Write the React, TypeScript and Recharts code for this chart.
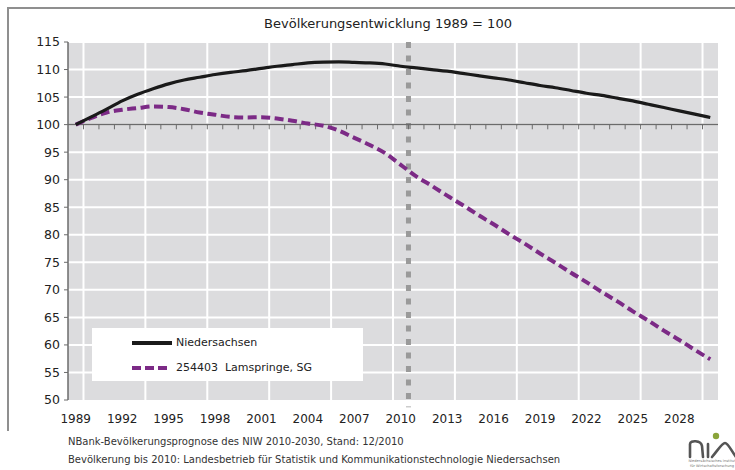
import { LineChart, Line, XAxis, YAxis, CartesianGrid, ReferenceLine, Legend } from 'recharts';

const years = [
  1989, 1990, 1991, 1992, 1993, 1994, 1995, 1996, 1997, 1998, 1999, 2000, 2001, 2002,
  2003, 2004, 2005, 2006, 2007, 2008, 2009, 2010, 2011, 2012, 2013, 2014, 2015, 2016,
  2017, 2018, 2019, 2020, 2021, 2022, 2023, 2024, 2025, 2026, 2027, 2028, 2029, 2030,
];

const niedersachsen = [
  100.0, 101.4, 102.8, 104.3, 105.5, 106.5, 107.4, 108.1, 108.6, 109.1, 109.5, 109.8, 110.2, 110.6,
  110.9, 111.2, 111.35, 111.4, 111.3, 111.2, 111.0, 110.6, 110.3, 110.0, 109.7, 109.3, 108.9, 108.5,
  108.1, 107.6, 107.1, 106.7, 106.2, 105.7, 105.3, 104.8, 104.3, 103.7, 103.1, 102.5, 101.9, 101.3,
];

const lamspringe = [
  100.0, 101.2, 102.2, 102.7, 103.0, 103.3, 103.2, 102.8, 102.2, 101.8, 101.4, 101.3, 101.35, 101.1,
  100.7, 100.2, 99.8, 98.9, 97.6, 96.3, 94.8, 92.7, 90.6, 88.9, 87.1, 85.4, 83.6, 81.9,
  80.1, 78.4, 76.6, 74.9, 73.1, 71.4, 69.6, 67.9, 66.1, 64.4, 62.6, 60.9, 59.1, 57.4,
];

const yearTicks = [1989, 1992, 1995, 1998, 2001, 2004, 2007, 2010, 2013, 2016, 2019, 2022, 2025, 2028];
const valueTicks = [50, 55, 60, 65, 70, 75, 80, 85, 90, 95, 100, 105, 110, 115];
const lastActualYear = 2010;
const baseValue = 100;

const seriesNames: Record<string, string> = {
  niedersachsen: 'Niedersachsen',
  lamspringe: '254403  Lamspringe, SG',
};
const legendOrder = ['niedersachsen', 'lamspringe'];

const data = years.map((year, i) => ({
  year,
  niedersachsen: niedersachsen[i],
  lamspringe: lamspringe[i],
}));

// category boundaries sit half a year between the points
const boundaries = years.slice(1).map((y) => y - 0.5);

const FONT = '"DejaVu Sans", Verdana, sans-serif';
const TEXT = '#222';
const AXIS = '#6b6b6b';
const PURPLE = '#7c2a86';

const LegendBox = ({ payload }: any) => {
  const items = [...(payload || [])].sort(
    (a: any, b: any) => legendOrder.indexOf(a.dataKey) - legendOrder.indexOf(b.dataKey)
  );
  return (
    <div
      style={{
        background: '#fff',
        width: 271,
        height: 53,
        boxSizing: 'border-box',
        paddingTop: 2,
        paddingLeft: 40,
        fontFamily: FONT,
        fontSize: 11,
        color: TEXT,
      }}
    >
      {items.map((entry: any) => (
        <div key={entry.dataKey} style={{ display: 'flex', alignItems: 'center', height: 25 }}>
          <svg width={40} height={6}>
            <line
              x1={0}
              y1={3}
              x2={entry.dataKey === 'lamspringe' ? 37 : 40}
              y2={3}
              stroke={entry.color}
              strokeWidth={4}
              strokeDasharray={entry.dataKey === 'lamspringe' ? '9 4' : undefined}
            />
          </svg>
          <span style={{ marginLeft: 4, whiteSpace: 'pre' }}>{entry.value}</span>
        </div>
      ))}
    </div>
  );
};

const NiwLogo = () => (
  <svg width={52} height={40} style={{ position: 'absolute', left: 686, top: 430 }}>
    <circle cx={30} cy={6} r={3.2} fill="#8aa43a" />
    <path
      d="M4 27 L4 14 C4 10 15 10 16 16 L17 27 M22 14 L22 27 M26 27 C32 20 36 13 39 13 C42 13 45 20 50 27"
      fill="none"
      stroke="#555"
      strokeWidth={2.6}
      strokeLinecap="round"
    />
    <text x={26} y={32} fontSize={3.6} fill="#777" textAnchor="middle" fontFamily={FONT}>
      Niedersächsisches Institut
    </text>
    <text x={26} y={37} fontSize={3.6} fill="#777" textAnchor="middle" fontFamily={FONT}>
      für Wirtschaftsforschung
    </text>
  </svg>
);

const App = () => {
  return (
    <div style={{ position: 'absolute', left: 0, top: 0, width: 735, height: 470, background: '#fff' }}>
      <div
        style={{
          position: 'absolute',
          left: 7,
          top: 7,
          width: 740,
          height: 422,
          borderTop: '2px solid #8f8f8f',
          borderLeft: '2px solid #8f8f8f',
        }}
      />
      <div
        style={{
          position: 'absolute',
          left: 0,
          width: 776,
          top: 16,
          textAlign: 'center',
          fontFamily: FONT,
          fontSize: 13,
          color: TEXT,
        }}
      >
        Bevölkerungsentwicklung 1989 = 100
      </div>
      <LineChart
        width={735}
        height={470}
        data={data}
        margin={{ top: 42, right: 17, bottom: 40, left: 8 }}
        style={{ position: 'absolute', left: 0, top: 0 }}
      >
        <CartesianGrid
          fill="#dcdcde"
          stroke="#ffffff"
          strokeWidth={2}
          verticalValues={boundaries}
          horizontalValues={valueTicks.slice(1)}
        />
        <XAxis
          dataKey="year"
          type="number"
          domain={[years[0] - 0.5, years[years.length - 1] + 0.5]}
          ticks={yearTicks}
          axisLine={false}
          tickLine={false}
          tickMargin={8}
          height={30}
          tick={{ fill: TEXT, fontSize: 12, fontFamily: FONT }}
        />
        <YAxis
          domain={[50, 115]}
          ticks={valueTicks}
          width={60}
          tickSize={4}
          tickMargin={4}
          axisLine={{ stroke: AXIS, strokeWidth: 1.5 }}
          tickLine={{ stroke: AXIS, strokeWidth: 1 }}
          tick={{ fill: TEXT, fontSize: 12.5, fontFamily: FONT }}
        />
        <ReferenceLine
          segment={[
            { x: lastActualYear + 0.5, y: 115 },
            { x: lastActualYear + 0.5, y: 48.7 },
          ]}
          ifOverflow="visible"
          stroke="#9a9a9a"
          strokeWidth={5}
          strokeDasharray="6 7.5"
        />
        <ReferenceLine y={baseValue} stroke={AXIS} strokeWidth={1.5} />
        {boundaries.map((b) => (
          <ReferenceLine
            key={b}
            segment={[
              { x: b, y: baseValue },
              { x: b, y: baseValue - 0.85 },
            ]}
            stroke={AXIS}
            strokeWidth={1}
          />
        ))}
        <Legend
          layout="horizontal"
          verticalAlign="middle"
          align="center"
          content={<LegendBox />}
          wrapperStyle={{ left: 92, top: 328, width: 271, height: 53 }}
        />
        <Line
          dataKey="lamspringe"
          name={seriesNames.lamspringe}
          type="monotone"
          stroke={PURPLE}
          strokeWidth={4}
          strokeDasharray="9 4.5"
          dot={false}
          isAnimationActive={false}
        />
        <Line
          dataKey="niedersachsen"
          name={seriesNames.niedersachsen}
          type="monotone"
          stroke="#1a1a1a"
          strokeWidth={3.2}
          dot={false}
          isAnimationActive={false}
        />
      </LineChart>
      <div
        style={{
          position: 'absolute',
          left: 68,
          top: 433,
          fontFamily: FONT,
          fontSize: 10,
          lineHeight: '18px',
          color: '#333',
        }}
      >
        <div>NBank-Bevölkerungsprognose des NIW 2010-2030, Stand: 12/2010</div>
        <div>Bevölkerung bis 2010: Landesbetrieb für Statistik und Kommunikationstechnologie Niedersachsen</div>
      </div>
      <NiwLogo />
    </div>
  );
};

export default App;
